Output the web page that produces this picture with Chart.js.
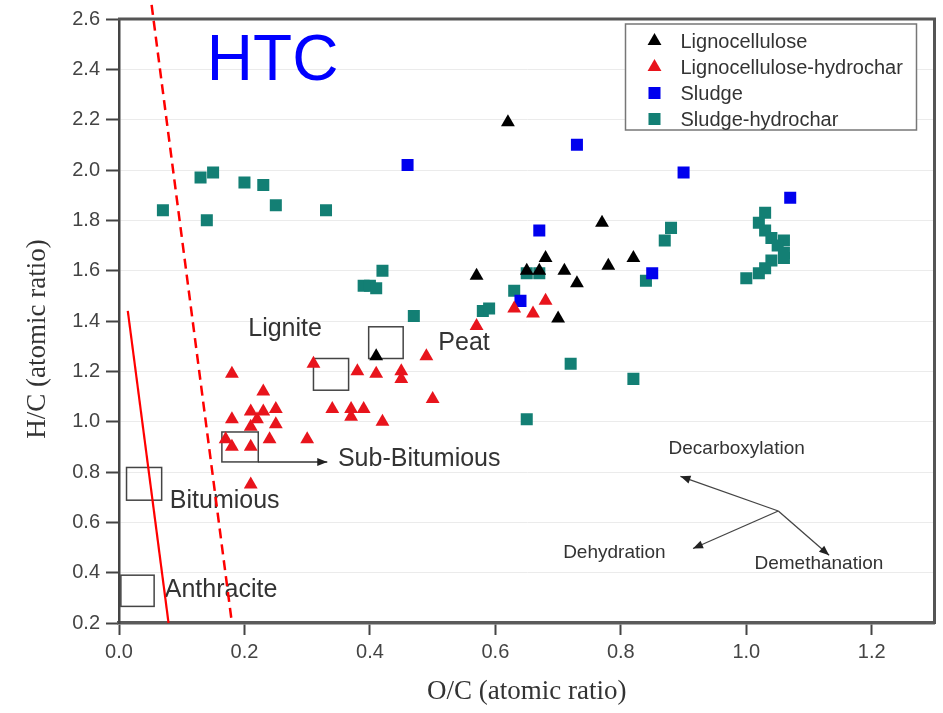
<!DOCTYPE html>
<html>
<head>
<meta charset="utf-8">
<script src="https://cdn.jsdelivr.net/npm/chart.js@4.4.1/dist/chart.umd.min.js"></script>
<style>
html,body{margin:0;padding:0;background:#fff;}
#wrap{width:943px;height:713px;position:relative;}
</style>
</head>
<body>
<div id="wrap"><canvas id="c" width="943" height="713"></canvas></div>
<script>
// ---------- data ----------
const xTicks = [0, 0.2, 0.4, 0.6, 0.8, 1.0, 1.2];
const yTicks = [0.2, 0.4, 0.6, 0.8, 1.0, 1.2, 1.4, 1.6, 1.8, 2.0, 2.2, 2.4, 2.6];
const seriesNames = ['Lignocellulose', 'Lignocellulose-hydrochar', 'Sludge', 'Sludge-hydrochar'];

const lignocellulose = [
  {x:0.62,y:2.19},{x:0.77,y:1.79},{x:0.57,y:1.58},{x:0.68,y:1.65},{x:0.65,y:1.60},
  {x:0.67,y:1.60},{x:0.71,y:1.60},{x:0.73,y:1.55},{x:0.78,y:1.62},{x:0.82,y:1.65},
  {x:0.70,y:1.41},{x:0.41,y:1.26}
];
const lignocelluloseHydrochar = [
  {x:0.18,y:1.19},{x:0.23,y:1.12},{x:0.25,y:1.05},{x:0.21,y:1.04},{x:0.23,y:1.04},
  {x:0.22,y:1.01},{x:0.18,y:1.01},{x:0.25,y:0.99},{x:0.21,y:0.98},{x:0.17,y:0.93},
  {x:0.24,y:0.93},{x:0.30,y:0.93},{x:0.18,y:0.90},{x:0.21,y:0.90},{x:0.21,y:0.75},
  {x:0.31,y:1.23},{x:0.38,y:1.20},{x:0.41,y:1.19},{x:0.45,y:1.20},{x:0.45,y:1.17},
  {x:0.49,y:1.26},{x:0.50,y:1.09},{x:0.34,y:1.05},{x:0.37,y:1.05},{x:0.39,y:1.05},
  {x:0.37,y:1.02},{x:0.42,y:1.00},{x:0.57,y:1.38},{x:0.63,y:1.45},{x:0.66,y:1.43},
  {x:0.68,y:1.48}
];
const sludge = [
  {x:0.46,y:2.02},{x:0.73,y:2.10},{x:0.90,y:1.99},{x:1.07,y:1.89},{x:0.67,y:1.76},
  {x:0.85,y:1.59},{x:0.64,y:1.48}
];
const sludgeHydrochar = [
  {x:0.07,y:1.84},{x:0.13,y:1.97},{x:0.15,y:1.99},{x:0.14,y:1.80},{x:0.20,y:1.95},
  {x:0.23,y:1.94},{x:0.25,y:1.86},{x:0.33,y:1.84},{x:0.42,y:1.60},{x:0.39,y:1.54},
  {x:0.40,y:1.54},{x:0.41,y:1.53},{x:0.47,y:1.42},{x:0.58,y:1.44},{x:0.59,y:1.45},
  {x:0.63,y:1.52},{x:0.65,y:1.59},{x:0.67,y:1.59},{x:0.72,y:1.23},{x:0.82,y:1.17},
  {x:0.65,y:1.01},{x:0.84,y:1.56},{x:0.87,y:1.72},{x:0.88,y:1.77},{x:1.03,y:1.83},
  {x:1.02,y:1.79},{x:1.03,y:1.76},{x:1.04,y:1.73},{x:1.06,y:1.72},{x:1.05,y:1.70},
  {x:1.06,y:1.67},{x:1.06,y:1.65},{x:1.04,y:1.64},{x:1.03,y:1.61},{x:1.02,y:1.59},
  {x:1.00,y:1.57}
];
// boundary lines (data units)
const solidBoundary = [{x:0.014,y:1.44},{x:0.079,y:0.2}];
const dashedBoundary = [{x:0.052,y:2.656},{x:0.18,y:0.2}];
// coal rank regions: [xMin, xMax, yMin, yMax]
const coalNames = ['Lignite', 'Peat', 'Sub-Bitumious', 'Bitumious', 'Anthracite'];
const coalBoxes = [[0.310,0.366,1.125,1.251],[0.398,0.453,1.251,1.377],[0.164,0.222,0.840,0.959],[0.012,0.068,0.688,0.818],[0.003,0.056,0.266,0.390]];
const coalLabelAt = [[0.206,1.34],[0.509,1.284],[0.349,0.823],[0.081,0.656],[0.073,0.302]];
const processNames = ['Decarboxylation', 'Dehydration', 'Demethanation'];
const processLabelAt = [[0.876,0.871],[0.708,0.457],[1.013,0.416]];
const arrowOrigin = [1.051,0.645];
const arrowTips = [[0.895,0.783],[0.915,0.496],[1.132,0.469]];
const subBitArrow = [[0.222,0.84],[0.332,0.84]];
const htcLabel = ['HTC', 0.140, 2.358];

// ---------- drawing ----------
const SANS = "'Liberation Sans', Arial, sans-serif";
const SERIF = "'Liberation Serif', 'Times New Roman', serif";

function arrow(ctx, x1, y1, x2, y2, head){
  ctx.beginPath(); ctx.moveTo(x1,y1); ctx.lineTo(x2,y2); ctx.stroke();
  const a = Math.atan2(y2-y1, x2-x1);
  ctx.beginPath();
  ctx.moveTo(x2,y2);
  ctx.lineTo(x2 - head*Math.cos(a) + head*0.4*Math.sin(a), y2 - head*Math.sin(a) - head*0.4*Math.cos(a));
  ctx.lineTo(x2 - head*Math.cos(a) - head*0.4*Math.sin(a), y2 - head*Math.sin(a) + head*0.4*Math.cos(a));
  ctx.closePath(); ctx.fill();
}

const annotations = {
  id: 'annotations',
  beforeDatasetsDraw(chart){
    const {ctx, scales:{x, y}} = chart;
    const px = v => x.getPixelForValue(v), py = v => y.getPixelForValue(v);
    ctx.save();
    ctx.fillStyle = '#0000ff';
    ctx.font = `64px ${SANS}`;
    ctx.textBaseline = 'alphabetic'; ctx.textAlign = 'left';
    ctx.fillText(htcLabel[0], px(htcLabel[1]), py(htcLabel[2]));
    ctx.strokeStyle = '#444'; ctx.lineWidth = 1.5;
    coalBoxes.forEach(b => {
      const x1 = px(b[0]), x2 = px(b[1]), y1 = py(b[3]), y2 = py(b[2]);
      ctx.strokeRect(x1, y1, x2-x1, y2-y1);
    });
    ctx.fillStyle = '#333';
    ctx.font = `25px ${SANS}`;
    coalNames.forEach((n,i) => ctx.fillText(n, px(coalLabelAt[i][0]), py(coalLabelAt[i][1])));
    ctx.strokeStyle = '#333'; ctx.fillStyle = '#222'; ctx.lineWidth = 1.5;
    arrow(ctx, px(subBitArrow[0][0]), py(subBitArrow[0][1]), px(subBitArrow[1][0]), py(subBitArrow[1][1]), 10);
    ctx.lineWidth = 1.3; ctx.strokeStyle = '#444';
    arrowTips.forEach(t => arrow(ctx, px(arrowOrigin[0]), py(arrowOrigin[1]), px(t[0]), py(t[1]), 10));
    ctx.fillStyle = '#333';
    ctx.font = `19px ${SANS}`;
    processNames.forEach((n,i) => ctx.fillText(n, px(processLabelAt[i][0]), py(processLabelAt[i][1])));
    ctx.restore();
  },
  afterDatasetsDraw(chart){
    const {ctx, chartArea:a} = chart;
    ctx.save();
    const bx = a.right - 309, by = a.top + 5, bw = 291, bh = 106;
    ctx.fillStyle = '#fff'; ctx.fillRect(bx, by, bw, bh);
    ctx.strokeStyle = '#777'; ctx.lineWidth = 1.5; ctx.strokeRect(bx, by, bw, bh);
    const items = chart.data.datasets.filter(d => d.inLegend);
    ctx.font = `20px ${SANS}`; ctx.textBaseline = 'middle'; ctx.textAlign = 'left';
    items.forEach((d,i) => {
      const cy = by + 17 + 26*i, mx = bx + 29;
      ctx.fillStyle = d.backgroundColor;
      ctx.beginPath();
      const r = d.pointRadius;
      if (d.pointStyle === 'triangle'){
        ctx.moveTo(mx, cy - r); ctx.lineTo(mx + 0.866*r, cy + 0.5*r); ctx.lineTo(mx - 0.866*r, cy + 0.5*r);
      } else {
        const s = Math.SQRT1_2*r; ctx.rect(mx - s, cy - s, 2*s, 2*s);
      }
      ctx.closePath(); ctx.fill();
      ctx.fillStyle = '#333';
      ctx.fillText(d.label, bx + 55, cy + 1);
    });
    ctx.restore();
  },
  afterDraw(chart){
    const {ctx, chartArea:a} = chart;
    ctx.save();
    ctx.strokeStyle = '#555'; ctx.lineWidth = 3;
    ctx.beginPath();
    ctx.moveTo(a.left - 1, a.top); ctx.lineTo(a.right, a.top); ctx.lineTo(a.right, a.bottom + 1);
    ctx.stroke();
    ctx.fillStyle = '#333';
    ctx.font = `27px ${SERIF}`;
    ctx.textAlign = 'center'; ctx.textBaseline = 'middle';
    ctx.fillText('O/C (atomic ratio)', (a.left + a.right)/2, 692);
    ctx.translate(38, 339); ctx.rotate(-Math.PI/2);
    ctx.fillText('H/C (atomic ratio)', 0, 0);
    ctx.restore();
  }
};

const tickFont = {family: SANS, size: 20};

new Chart(document.getElementById('c'), {
  type: 'scatter',
  data: {
    datasets: [
      {label:'solid boundary', data: solidBoundary, showLine:true, borderColor:'#ff0000', borderWidth:2.2, pointRadius:0, clip:false},
      {label:'dashed boundary', data: dashedBoundary, showLine:true, borderColor:'#ff0000', borderWidth:2.5, borderDash:[10,6], pointRadius:0, clip:false},
      {label: seriesNames[0], data: lignocellulose, pointStyle:'triangle', pointRadius:8, backgroundColor:'#000000', borderWidth:0, inLegend:true},
      {label: seriesNames[1], data: lignocelluloseHydrochar, pointStyle:'triangle', pointRadius:8, backgroundColor:'#e8141c', borderWidth:0, inLegend:true},
      {label: seriesNames[2], data: sludge, pointStyle:'rect', pointRadius:8.5, backgroundColor:'#0000ee', borderWidth:0, inLegend:true},
      {label: seriesNames[3], data: sludgeHydrochar, pointStyle:'rect', pointRadius:8.5, backgroundColor:'#137f74', borderWidth:0, inLegend:true}
    ]
  },
  options: {
    responsive: false,
    animation: false,
    devicePixelRatio: 1,
    events: [],
    layout: {padding: {top: 19, right: 7, left: 0, bottom: 0}},
    plugins: {legend: {display: false}, tooltip: {enabled: false}},
    scales: {
      x: {
        type: 'linear', min: 0, max: 1.3,
        afterBuildTicks: s => { s.ticks = xTicks.map(v => ({value: v})); },
        afterFit: s => { s.height = 90; },
        ticks: {callback: v => Number(v).toFixed(1), font: tickFont, color: '#444', padding: 5, autoSkip: false, maxRotation: 0},
        grid: {drawOnChartArea: false, tickLength: 12, tickWidth: 2, tickColor: '#444'},
        border: {display: true, color: '#5a5a5a', width: 3.5}
      },
      y: {
        type: 'linear', min: 0.2, max: 2.6,
        afterBuildTicks: s => { s.ticks = yTicks.map(v => ({value: v})); },
        afterFit: s => { s.width = 119; },
        ticks: {callback: v => Number(v).toFixed(1), font: tickFont, color: '#444', padding: 6, autoSkip: false},
        grid: {color: '#ebebeb', lineWidth: 1, tickLength: 13, tickWidth: 2, tickColor: '#444'},
        border: {display: true, color: '#444', width: 2.5}
      }
    }
  },
  plugins: [annotations]
});
</script>
</body>
</html>
